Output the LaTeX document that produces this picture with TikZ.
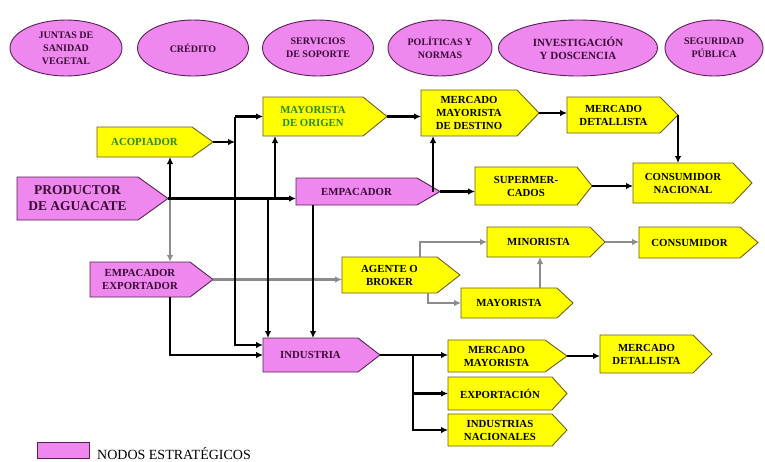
\documentclass[tikz,border=0pt]{standalone}
\usepackage{fontspec}
\setmainfont{Liberation Serif}
\usetikzlibrary{arrows.meta,shapes.geometric,calc}
\definecolor{pinkf}{HTML}{EE88EE}
\definecolor{pinkd}{HTML}{5A2054}
\definecolor{ptext}{HTML}{3A0A36}
\definecolor{yelf}{HTML}{FFFF00}
\definecolor{yeld}{HTML}{6E5C1C}
\definecolor{gtext}{HTML}{2A8A1E}
\definecolor{grayln}{HTML}{8C8C8C}
\tikzset{
  ybox/.style={fill=yelf,draw=yeld,line width=0.9pt},
  pbox/.style={fill=pinkf,draw=pinkd,line width=0.9pt},
  btext/.style={inner sep=0pt,outer sep=0pt,align=center,font=\bfseries\fontsize{10.8}{13}\selectfont},
  ytxt/.style={text=black},
  gtxt/.style={text=gtext},
  ptxt/.style={text=ptext},
  bigtxt/.style={text=ptext,font=\bfseries\fontsize{13.5}{16}\selectfont},
  ell/.style={ellipse,fill=pinkf,draw=pinkd,line width=0.9pt,inner sep=0pt,
     minimum height=56pt,align=center,text=ptext,font=\bfseries\fontsize{10}{13}\selectfont},
  blk/.style={draw=black,line width=2.5pt,-{Latex[length=7pt,width=6.5pt]}},
  gry/.style={draw=grayln,line width=2.2pt,-{Latex[length=7pt,width=6.5pt]}},
}
\newcommand\abox[9]{%
  \filldraw[#2] (#4,#5) -- (#6,#5) -- ({#6+#8},{(#5+#7)/2}) -- (#6,#7) -- (#4,#7) -- cycle;
  \node[btext,#3,minimum width={(#6-#4)*1pt},minimum height={(#7-#5)*1pt}] (#1) at ({(#4+#6)/2},{(#5+#7)/2}) {#9};
  \coordinate (#1-tip) at ({#6+#8},{(#5+#7)/2});
}
\begin{document}
\begin{tikzpicture}[x=1pt,y=-1pt]
\useasboundingbox[fill=white] (0,0) rectangle (765,461);

% top ellipses
\node[ell,minimum width=112pt] (e1) at (66,48) {JUNTAS DE\\SANIDAD\\VEGETAL};
\node[ell,minimum width=111pt] (e2) at (193,48) {CRÉDITO};
\node[ell,minimum width=111pt] (e3) at (318,48) {SERVICIOS\\DE SOPORTE};
\node[ell,minimum width=104pt] (e4) at (440,48) {POLÍTICAS Y\\NORMAS};
\node[ell,minimum width=159pt,font=\bfseries\fontsize{11}{13}\selectfont] (e5) at (578,48) {INVESTIGACIÓN\\Y DOSCENCIA};
\node[ell,minimum width=98pt] (e6) at (714,48) {SEGURIDAD\\PÚBLICA};

% boxes: name, shape, text, left, top, right, bottom, depth, text
\abox{acop}{ybox}{gtxt}{97}{127}{192}{157}{21}{ACOPIADOR}
\abox{mayor}{ybox}{gtxt}{263}{97}{363}{136}{24}{MAYORISTA\\DE ORIGEN}
\abox{prod}{pbox}{bigtxt}{17}{177}{138}{220}{30}{PRODUCTOR\\DE AGUACATE}
\abox{empac}{pbox}{ptxt}{296}{178}{417}{205}{23}{EMPACADOR}
\abox{mmdest}{ybox}{ytxt}{421}{90}{517}{136}{22}{MERCADO\\MAYORISTA\\DE DESTINO}
\abox{mdet1}{ybox}{ytxt}{567}{97}{660}{133}{18}{MERCADO\\DETALLISTA}
\abox{super}{ybox}{ytxt}{475}{167}{577}{205}{15}{SUPERMER-\\CADOS}
\abox{cnac}{ybox}{ytxt}{633}{163}{733}{203}{19}{CONSUMIDOR\\NACIONAL}
\abox{empexp}{pbox}{ptxt}{90}{262}{190}{297}{23}{EMPACADOR\\EXPORTADOR}
\abox{agente}{ybox}{ytxt}{342}{257}{437}{293}{23}{AGENTE O\\BROKER}
\abox{minor}{ybox}{ytxt}{487}{227}{590}{257}{15}{MINORISTA}
\abox{consum}{ybox}{ytxt}{639}{227}{740}{258}{18}{CONSUMIDOR}
\abox{mayor2}{ybox}{ytxt}{461}{288}{557}{318}{16}{MAYORISTA}
\abox{indus}{pbox}{ptxt}{263}{338}{358}{372}{22}{INDUSTRIA}
\abox{mmay}{ybox}{ytxt}{448}{340}{545}{372}{22}{MERCADO\\MAYORISTA}
\abox{mdet2}{ybox}{ytxt}{600}{335}{693}{373}{19}{MERCADO\\DETALLISTA}
\abox{export}{ybox}{ytxt}{448}{377}{552}{410}{15}{EXPORTACIÓN}
\abox{indnac}{ybox}{ytxt}{448}{414}{552}{446}{15}{INDUSTRIAS\\NACIONALES}

% legend
\node[pbox,minimum width=52pt,minimum height=16pt,inner sep=0pt] (leg) at (63,450) {};
\node[anchor=base west,inner sep=0pt,font=\fontsize{14}{16}\selectfont] (legt) at (97,459) {NODOS ESTRATÉGICOS};

% gray connectors
\draw[gry] (prod-tip -| 170,0) -- (empexp.north -| 170,0);
\draw[gry] (empexp-tip) -- (empexp-tip -| agente.west);
\draw[gry] (agente.north -| 420,0) |- (minor.west);
\draw[gry] (agente.south -| 428,0) |- (mayor2.west);
\draw[gry] (mayor2.north -| 540,0) -- (minor.south -| 540,0);
\draw[gry] (minor-tip) -- (minor-tip -| consum.west);

% black connectors
\draw[blk] (prod-tip) -- (prod-tip -| empac.west);
\draw[blk] (prod-tip -| 170,0) -- (acop.south -| 170,0);
\draw[blk] (acop-tip) -- (acop-tip -| 235,0);
\draw[blk] (mayor.west -| 235,0) |- ($(indus.west)+(0,-10)$);
\draw[blk] (mayor.west -| 235,0) -- (mayor.west);
\draw[blk] (prod-tip -| 268,0) -- (indus.north -| 268,0);
\draw[blk] (prod-tip -| 275,0) -- (mayor.south -| 275,0);
\draw[blk] (empac.south -| 313,0) -- (indus.north -| 313,0);
\draw[blk] (empexp.south -| 170,0) |- (indus.west);
\draw[blk] (mayor-tip) -- (mayor-tip -| mmdest.west);
\draw[blk] (empac-tip) -- (empac-tip -| super.west);
\draw[blk] (empac-tip -| 433,0) -- (mmdest.south -| 433,0);
\draw[blk] (mmdest-tip) -- (mmdest-tip -| mdet1.west);
\draw[blk] (mdet1-tip) -- (cnac.north -| mdet1-tip);
\draw[blk] (super-tip) -- (super-tip -| cnac.west);
\draw[blk] (indus-tip) -- (indus-tip -| mmay.west);
\draw[blk] (indus-tip -| 413,0) |- (export.west);
\draw[blk] (indus-tip -| 413,0) |- (indnac.west);
\draw[blk] (mmay-tip) -- (mmay-tip -| mdet2.west);
\end{tikzpicture}
\end{document}
